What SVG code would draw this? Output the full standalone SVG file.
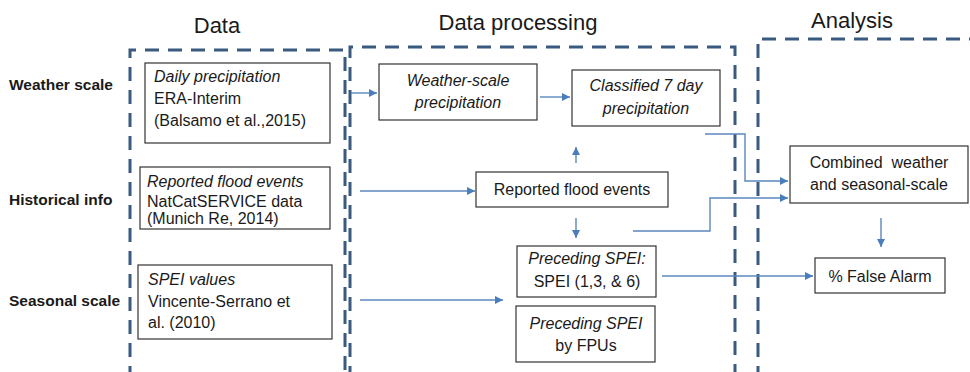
<svg xmlns="http://www.w3.org/2000/svg" width="970" height="372" viewBox="0 0 970 372">
<style>
text{font-family:"Liberation Sans",Arial,sans-serif;fill:#1a1a1a}
.title{font-size:22px}
.row{font-size:15.5px;font-weight:bold}
.t{font-size:16px}
.i{font-style:italic}
.pre{white-space:pre}
.box{fill:#fff;stroke:#333;stroke-width:1.2}
.dash{fill:none;stroke:#3b5a80;stroke-width:3;stroke-dasharray:14 9}
.con{fill:none;stroke:#5b87bd;stroke-width:1.4}
</style>
<defs>
<marker id="ah" viewBox="0 0 10 10" refX="10" refY="5" markerWidth="8" markerHeight="8" markerUnits="userSpaceOnUse" orient="auto">
<path d="M0,0 L10,5 L0,10 z" fill="#4a7ebb"/>
</marker>
</defs>
<rect width="970" height="372" fill="#fff"/>
<g id="titles">
<text class="title" x="217" y="33" text-anchor="middle">Data</text>
<text class="title" x="518" y="30" text-anchor="middle">Data processing</text>
<text class="title" x="852" y="28" text-anchor="middle">Analysis</text>
</g>
<g id="rowlabels">
<text class="row" x="9" y="90">Weather scale</text>
<text class="row" x="9" y="205">Historical info</text>
<text class="row" x="9" y="306">Seasonal scale</text>
</g>
<g id="frames">
<path class="dash" d="M130,380 V50 H345 V380"/>
<path class="dash" d="M350,380 V47 H735 V380"/>
<path class="dash" d="M758,380 V39 H980"/>
</g>
<g id="connectors">
<path class="con" d="M351,93 H377" marker-end="url(#ah)"/>
<path class="con" d="M540,97 H570" marker-end="url(#ah)"/>
<path class="con" d="M576,163 V147" marker-end="url(#ah)"/>
<path class="con" d="M360,191 H475" marker-end="url(#ah)"/>
<path class="con" d="M576,218 V238" marker-end="url(#ah)"/>
<path class="con" d="M360,300 H503" marker-end="url(#ah)"/>
<path class="con" d="M705,134 H745 V181 H788" marker-end="url(#ah)"/>
<path class="con" d="M633,231 H710 V198 H788" marker-end="url(#ah)"/>
<path class="con" d="M881,218 V247" marker-end="url(#ah)"/>
<path class="con" d="M662,276 H813" marker-end="url(#ah)"/>
</g>
<g id="daily-precip">
<rect class="box" x="145" y="63" width="185" height="80"/>
<text class="t i" x="154" y="82">Daily precipitation</text>
<text class="t" x="154" y="104">ERA-Interim</text>
<text class="t" x="154" y="126">(Balsamo et al.,2015)</text>
</g>
<g id="flood-data">
<rect class="box" x="140" y="167" width="190" height="62"/>
<text class="t i" x="147" y="187">Reported flood events</text>
<text class="t" x="147" y="207">NatCatSERVICE data</text>
<text class="t" x="147" y="224">(Munich Re, 2014)</text>
</g>
<g id="spei-values">
<rect class="box" x="138" y="265" width="194" height="74"/>
<text class="t i" x="148" y="285">SPEI values</text>
<text class="t" x="148" y="307">Vincente-Serrano et</text>
<text class="t" x="148" y="328">al. (2010)</text>
</g>
<g id="weather-scale">
<rect class="box" x="379" y="64" width="158" height="56"/>
<text class="t i" x="458" y="86" text-anchor="middle">Weather-scale</text>
<text class="t i" x="458" y="108" text-anchor="middle">precipitation</text>
</g>
<g id="classified">
<rect class="box" x="572" y="70" width="148" height="56"/>
<text class="t i" x="646" y="91" text-anchor="middle">Classified 7 day</text>
<text class="t i" x="646" y="114" text-anchor="middle">precipitation</text>
</g>
<g id="reported">
<rect class="box" x="476" y="172" width="192" height="35"/>
<text class="t" x="572" y="195" text-anchor="middle">Reported flood events</text>
</g>
<g id="preceding-spei">
<rect class="box" x="517" y="246" width="139" height="51"/>
<text class="t i" x="587" y="264" text-anchor="middle">Preceding SPEI:</text>
<text class="t" x="587" y="287" text-anchor="middle">SPEI (1,3, &amp; 6)</text>
</g>
<g id="preceding-fpus">
<rect class="box" x="516" y="306" width="139" height="56"/>
<text class="t i" x="586" y="329" text-anchor="middle">Preceding SPEI</text>
<text class="t" x="586" y="351" text-anchor="middle">by FPUs</text>
</g>
<g id="combined">
<rect class="box" x="790" y="146" width="178" height="57"/>
<text class="t pre" x="879" y="168" text-anchor="middle">Combined  weather</text>
<text class="t" x="879" y="190" text-anchor="middle">and seasonal-scale</text>
</g>
<g id="false-alarm">
<rect class="box" x="815" y="258" width="130" height="35"/>
<text class="t" x="880" y="282" text-anchor="middle">% False Alarm</text>
</g>
</svg>
